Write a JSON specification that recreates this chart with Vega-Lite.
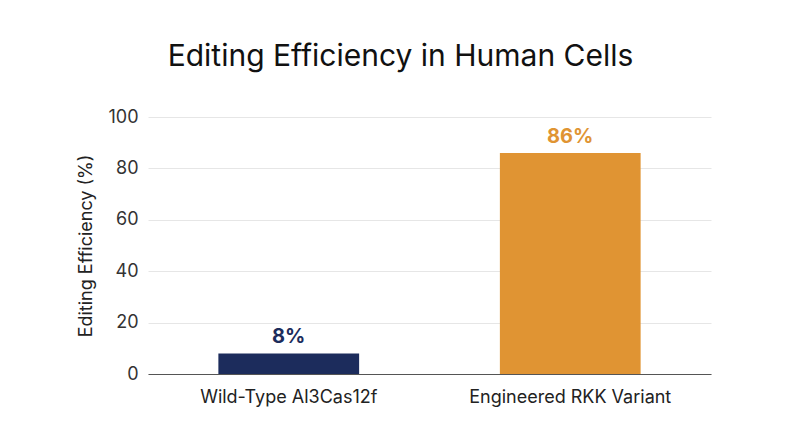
{
  "$schema": "https://vega.github.io/schema/vega-lite/v6.json",
  "width": 563,
  "height": 257,
  "autosize": {"type": "none"},
  "padding": {"left": 148, "top": 117, "right": 89, "bottom": 73},
  "background": "white",
  "title": {
    "text": "Editing Efficiency in Human Cells",
    "font": "Inter",
    "fontSize": 30,
    "fontWeight": "normal",
    "color": "#111111",
    "anchor": "middle",
    "dx": -29,
    "offset": 36
  },
  "data": {
    "values": [
      {"variant": "Wild-Type Al3Cas12f", "efficiency": 8, "label": "8%"},
      {"variant": "Engineered RKK Variant", "efficiency": 86, "label": "86%"}
    ]
  },
  "encoding": {
    "x": {
      "field": "variant",
      "type": "nominal",
      "sort": null,
      "scale": {"paddingInner": 0.5, "paddingOuter": 0.25},
      "axis": {
        "title": null,
        "labelAngle": 0,
        "labelFont": "Inter",
        "labelFontSize": 18,
        "labelColor": "#222222",
        "labelPadding": 14,
        "labelLimit": 0,
        "ticks": false,
        "domainColor": "#555555",
        "domainWidth": 1
      }
    },
    "y": {
      "field": "efficiency",
      "type": "quantitative",
      "scale": {"domain": [0, 100]},
      "axis": {
        "title": "Editing Efficiency (%)",
        "titleFont": "Inter",
        "titleFontSize": 18,
        "titleFontWeight": "normal",
        "titleColor": "#222222",
        "titlePadding": 12,
        "labelFont": "Inter",
        "labelFontSize": 18,
        "labelColor": "#333333",
        "labelPadding": 10,
        "values": [0, 20, 40, 60, 80, 100],
        "ticks": false,
        "domain": false,
        "gridColor": "#e6e6e6",
        "gridWidth": 1
      }
    },
    "color": {
      "field": "variant",
      "type": "nominal",
      "sort": null,
      "scale": {"range": ["#1c2c5c", "#e09433"]},
      "legend": null
    }
  },
  "layer": [
    {"mark": {"type": "bar"}},
    {
      "mark": {"type": "text", "baseline": "bottom", "dy": -6, "font": "Inter", "fontSize": 20, "fontWeight": "bold"},
      "encoding": {"text": {"field": "label"}}
    }
  ],
  "config": {"view": {"stroke": null}}
}
